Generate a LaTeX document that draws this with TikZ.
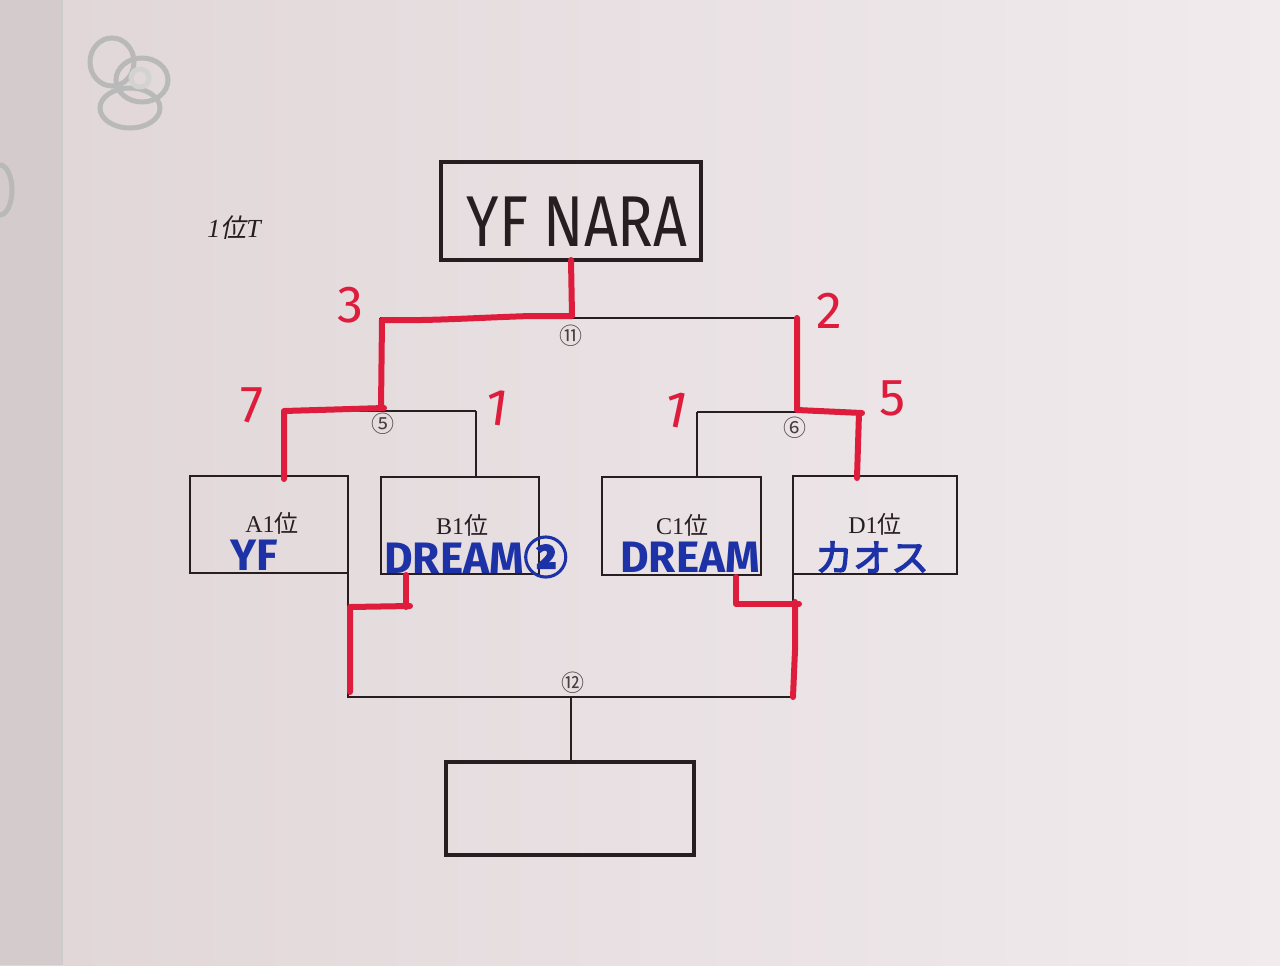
\documentclass[tikz,border=0pt]{standalone}
\usepackage{fontspec}
\setmainfont{Liberation Serif}
\newfontfamily\cjk{Noto Sans CJK JP}
\newfontfamily\cjkslant{Noto Sans CJK JP}[FakeSlant=0.2]
\newfontfamily\cjkb{Noto Sans CJK JP}[FakeBold=3]
\newfontfamily\hand{Fira Sans}
\definecolor{paperA}{RGB}{224,214,216}
\definecolor{paperB}{RGB}{241,235,237}
\definecolor{wall}{RGB}{212,203,205}
\definecolor{ink}{RGB}{38,30,32}
\definecolor{numgray}{RGB}{70,62,64}
\definecolor{redm}{RGB}{222,28,60}
\definecolor{bluem}{RGB}{30,50,168}
\begin{document}
\begin{tikzpicture}[x=0.5pt,y=-0.5pt,
  bline/.style={draw=ink,line width=1pt},
  redpen/.style={draw=redm,line width=3pt,line cap=round,line join=round},
  teambox/.style={draw=ink,line width=1pt,inner sep=0pt,outer sep=0pt,minimum height=48.5pt},
  bigbox/.style={draw=ink,line width=2pt,inner sep=0pt,outer sep=0pt},
  seed/.style={font=\fontsize{12}{12}\selectfont,text=ink,inner sep=0pt},
  circnum/.style={font=\cjk\fontsize{11.5}{11.5}\selectfont,text=numgray,inner sep=0pt},
  rednum/.style={font=\hand\fontsize{26}{26}\selectfont,text=redm,inner sep=0pt},
  bluetxt/.style={font=\hand\bfseries\fontsize{22}{22}\selectfont,text=bluem,inner sep=0pt},
  pin/.style={draw=gray!55,line width=2.5pt}]
% background
\useasboundingbox (0,0) rectangle (1280,965);
\shade[left color=paperA,right color=paperB] (0,0) rectangle (1280,965);
\fill[wall] (0,0) rectangle (62,965);
\draw[gray!40,line width=1pt] (62,0) -- (62,965);
% pins
\draw[pin] (112,62) ellipse (22 and 24);
\draw[pin] (142,80) ellipse (26 and 22);
\draw[pin] (130,108) ellipse (30 and 20);
\draw[pin,gray!35] (140,78) circle (9);
\draw[pin] (0,190) ellipse (12 and 25);

% title
\node[font=\fontsize{13}{13}\selectfont\itshape,text=ink,inner sep=0pt] (title) at (234,228) {1{\cjkslant 位}T};

% boxes
\node[bigbox,minimum width=130pt,minimum height=49pt] (top) at (571,211) {};
\node[font=\hand\fontsize{36}{36}\selectfont,text=ink,inner sep=0pt] (topname) at (577,222) {\scalebox{0.82}[1]{YF NARA}};
\node[bigbox,minimum width=124pt,minimum height=46.5pt] (bot) at (570,808.5) {};

\node[teambox,minimum width=79pt] (A1) at (269,524.5) {};
\node[teambox,minimum width=79pt] (B1) at (460,525) {};
\node[teambox,minimum width=79.5pt,minimum height=49pt] (C1) at (681.5,526) {};
\node[teambox,minimum width=82pt,minimum height=49pt] (D1) at (875,525) {};

\node[seed] (A1l) at (272,523) {A1{\cjk 位}};
\node[seed] (B1l) at (462,525) {B1{\cjk 位}};
\node[seed] (C1l) at (682,525) {C1{\cjk 位}};
\node[seed] (D1l) at (875,524) {D1{\cjk 位}};

\node[bluetxt] (A1t) at (254,555) {YF};
\node[bluetxt] (B1t) at (476,557) {DREAM{\cjkb ②}};
\node[bluetxt] (C1t) at (690,557) {DREAM};
\node[bluetxt,font=\cjkb\fontsize{19}{19}\selectfont] (D1t) at (872,557) {カオス};

% bracket coordinates
\coordinate (m11l) at (380,318);
\coordinate (m11r) at (797,318);
\coordinate (m5l) at (284,411);
\coordinate (m5r) at (476,411);
\coordinate (m6l) at (697,412);
\coordinate (m6r) at (859,412);
\coordinate (m12l) at (349,697);
\coordinate (m12r) at (793,697);
\coordinate (m12c) at (571,697);

% black bracket lines
\draw[bline] (top.south) -- (top.south |- m11l);
\draw[bline] (m11l) -- (m11r);
\draw[bline] (m11l) -- (m11l |- m5l);
\draw[bline] (m11r) -- (m11r |- m6l);
\draw[bline] (m5l) -- (m5r);
\draw[bline] (m5l) -- (m5l |- A1.north);
\draw[bline] (m5r) -- (m5r |- B1.north);
\draw[bline] (m6l) -- (m6r);
\draw[bline] (m6l) -- (m6l |- C1.north);
\draw[bline] (m6r) -- (m6r |- D1.north);
\draw[bline] (A1.south east) -- (A1.south east |- m12l) -- (m12r) -- (D1.south west);
\draw[bline] (m12c) -- (m12c |- bot.north);

% circled match numbers
\node[circnum] (n11) at (571,336) {⑪};
\node[circnum] (n5) at (383,424) {⑤};
\node[circnum] (n6) at (795,428) {⑥};
\node[circnum] (n12) at (573,683) {⑫};

% red winner paths
\draw[redpen] (top.south) -- (572,316) -- (530,316) .. controls (470,318) and (430,321) .. (382,320) -- (381,408);
\draw[redpen] (384,408) -- (284,411) -- (284,479);
\draw[redpen] (797,318) -- (797,410) -- (862,413);
\draw[redpen] (859,413) -- (857,478);
\draw[redpen] (406,575) -- (406,607);
\draw[redpen] (410,606) -- (350,607) -- (350,692);
\draw[redpen] (736,577) -- (736,604) -- (799,604);
\draw[redpen] (795,602) -- (795,650) -- (793,697);

% red scores
\node[rednum] (s3) at (350,305) {3};
\node[rednum] (s2) at (829,311) {2};
\node[rednum] (s7) at (252,405) {7};
\node[rednum,rotate=-8] (s1a) at (497,408) {1};
\node[rednum,rotate=-12] (s1b) at (676,410) {1};
\node[rednum] (s5) at (893,398) {5};
\end{tikzpicture}
\end{document}
